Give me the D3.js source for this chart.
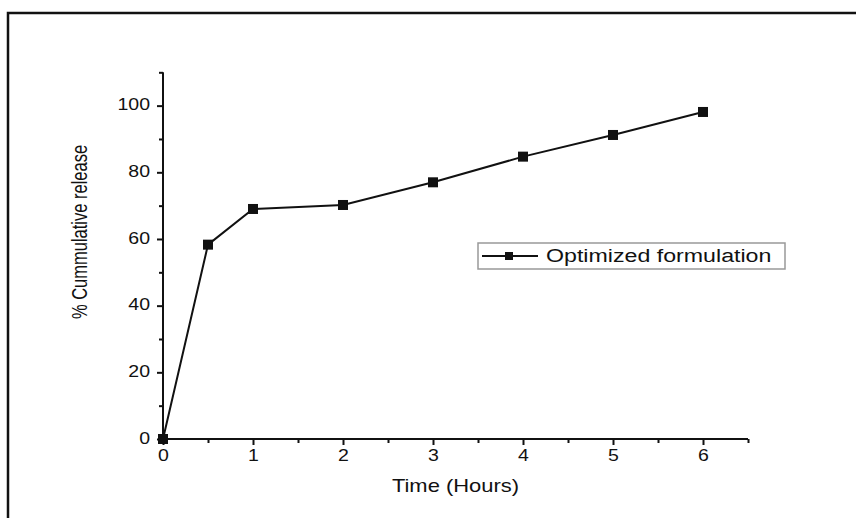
<!DOCTYPE html>
<html><head><meta charset="utf-8">
<script src="https://cdn.jsdelivr.net/npm/d3@7"></script>
<style>body{margin:0;background:#fff}svg{display:block}text{font-family:"Liberation Sans",Arial,sans-serif;fill:#111}</style>
</head><body>
<script>
const times = [0, 0.5, 1, 2, 3, 4, 5, 6];
const release = [0, 58.3, 69.0, 70.2, 77.0, 84.7, 91.2, 98.1];
const seriesName = "Optimized formulation";
const xTickValues = [0, 1, 2, 3, 4, 5, 6];
const yTickValues = [0, 20, 40, 60, 80, 100];
const xTitle = "Time (Hours)";
const yTitle = "% Cummulative release";

const W = 856, H = 518, SX = 1.22;
const svg = d3.select("body").append("svg").attr("width", W).attr("height", H);

// outer frame (top & left visible)
svg.append("path").attr("d", `M8,${H+2}V13H${W+2}`).attr("fill","none").attr("stroke","#111").attr("stroke-width",2.5);

const x = d3.scaleLinear().domain([0, 6.5]).range([163, 748]);
const y = d3.scaleLinear().domain([0, 110]).range([439, 72.3]);

const axisColor = "#111";
// x axis
const gx = svg.append("g").attr("transform", `translate(0,${y(0)})`);
gx.call(d3.axisBottom(x).tickValues(d3.range(0, 6.51, 0.5)).tickSize(4).tickFormat(""));
gx.selectAll(".tick line").filter(d => Number.isInteger(d)).attr("y2", 6);
gx.select(".domain").attr("d", `M${x(0)},0H${x(6.5)}`);
gx.selectAll("line,path").attr("stroke", axisColor).attr("stroke-width", 2);
gx.selectAll(".tick").filter(d => xTickValues.includes(d)).append("text")
  .attr("transform", `translate(0,18) scale(${SX},1)`).attr("text-anchor","middle")
  .attr("dominant-baseline","middle").style("font-size","16px").text(d => d);

// y axis
const gy = svg.append("g").attr("transform", `translate(${x(0)},0)`);
gy.call(d3.axisLeft(y).tickValues(d3.range(0, 110.1, 10)).tickSize(4).tickFormat(""));
gy.selectAll(".tick line").filter(d => d % 20 === 0).attr("x2", -6);
gy.select(".domain").attr("d", `M0,${y(0)}V${y(110)}`);
gy.selectAll("line,path").attr("stroke", axisColor).attr("stroke-width", 2);
gy.selectAll(".tick").filter(d => yTickValues.includes(d)).append("text")
  .attr("transform", `translate(-13,0) scale(${SX},1)`).attr("text-anchor","end")
  .attr("dominant-baseline","middle").style("font-size","16px").text(d => d);

// titles
svg.append("text").attr("transform", `translate(${(x(0)+x(6.5))/2},487) scale(${SX},1)`)
  .attr("text-anchor","middle").attr("dominant-baseline","middle").style("font-size","18px").text(xTitle);
svg.append("text").attr("transform", `translate(81,232) scale(1.35,1) rotate(-90)`)
  .attr("text-anchor","middle").attr("dominant-baseline","middle").style("font-size","16.5px").text(yTitle);

// data line
const data = times.map((t, i) => ({t, v: release[i]}));
svg.append("path").datum(data).attr("fill","none").attr("stroke","#111").attr("stroke-width",2)
  .attr("d", d3.line().x(d => x(d.t)).y(d => y(d.v)));
svg.selectAll("rect.pt").data(data).join("rect").attr("class","pt")
  .attr("x", d => x(d.t) - 5).attr("y", d => y(d.v) - 5).attr("width", 10).attr("height", 10)
  .attr("fill","#111");

// legend
const lg = svg.append("g");
lg.append("rect").attr("x",478).attr("y",243).attr("width",307).attr("height",26)
  .attr("fill","#fff").attr("stroke","#999").attr("stroke-width",1.5);
lg.append("line").attr("x1",482).attr("x2",538).attr("y1",256).attr("y2",256).attr("stroke","#111").attr("stroke-width",2);
lg.append("rect").attr("x",505).attr("y",252).attr("width",8).attr("height",8).attr("fill","#111");
lg.append("text").attr("transform",`translate(546,257) scale(${SX},1)`).attr("dominant-baseline","middle")
  .style("font-size","19px").text(seriesName);
</script>
</body></html>
